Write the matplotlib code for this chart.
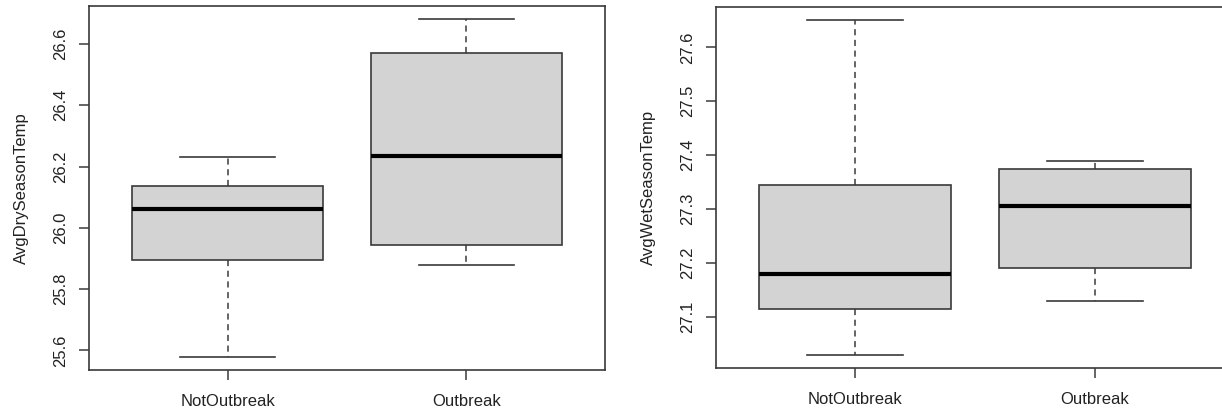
import matplotlib.pyplot as plt

groups = ["NotOutbreak", "Outbreak"]

# five-number summaries: low whisker, Q1, median, Q3, high whisker
dry_low = [25.58, 25.88]
dry_q1 = [25.895, 25.945]
dry_med = [26.06, 26.235]
dry_q3 = [26.135, 26.57]
dry_high = [26.23, 26.68]

wet_low = [27.03, 27.13]
wet_q1 = [27.115, 27.19]
wet_med = [27.18, 27.305]
wet_q3 = [27.345, 27.375]
wet_high = [27.65, 27.39]

plt.rcParams['font.family'] = ['Liberation Sans', 'DejaVu Sans']
edge = "#3a3a3a"


def make_stats(low, q1, med, q3, high):
    stats = []
    for i in range(len(groups)):
        stats.append({"whislo": low[i], "q1": q1[i], "med": med[i],
                      "q3": q3[i], "whishi": high[i], "fliers": [], "label": groups[i]})
    return stats


def r_boxplot(ax, stats, ylabel, yticks):
    ax.bxp(stats, positions=[1, 2], widths=0.8, patch_artist=True, showfliers=False,
           boxprops=dict(facecolor="#d3d3d3", edgecolor=edge, linewidth=1.2),
           medianprops=dict(color="black", linewidth=3, solid_capstyle="butt"),
           whiskerprops=dict(color=edge, linewidth=1.1, linestyle=(0, (4, 3))),
           capprops=dict(color=edge, linewidth=1.2), capwidths=0.4)
    lo = min(s["whislo"] for s in stats)
    hi = max(s["whishi"] for s in stats)
    pad = (hi - lo) * 0.04
    ax.set_ylim(lo - pad, hi + pad)
    ax.set_xlim(0.42, 2.58)
    ax.set_yticks(yticks)
    ax.set_yticklabels([f"{t:.1f}" for t in yticks], rotation=90, va="center")
    ax.set_xticks([1, 2])
    ax.set_xticklabels(groups)
    ax.set_ylabel(ylabel, fontsize=12, color="#222222", labelpad=17)
    ax.tick_params(labelsize=12, length=7.2, width=1.1, color=edge, labelcolor="#222222")
    ax.tick_params(axis="x", pad=10)
    ax.tick_params(axis="y", pad=8)
    for sp in ax.spines.values():
        sp.set_color(edge)
        sp.set_linewidth(1.2)


fig = plt.figure(figsize=(12.22, 4.15), dpi=100)
ax1 = fig.add_axes([89 / 1222, 45 / 415, 516 / 1222, 364 / 415])
ax2 = fig.add_axes([716 / 1222, 47 / 415, 518 / 1222, 361 / 415])

r_boxplot(ax1, make_stats(dry_low, dry_q1, dry_med, dry_q3, dry_high),
          "AvgDrySeasonTemp", [25.6, 25.8, 26.0, 26.2, 26.4, 26.6])
r_boxplot(ax2, make_stats(wet_low, wet_q1, wet_med, wet_q3, wet_high),
          "AvgWetSeasonTemp", [27.1, 27.2, 27.3, 27.4, 27.5, 27.6])

fig.savefig("out.png", dpi=100)
